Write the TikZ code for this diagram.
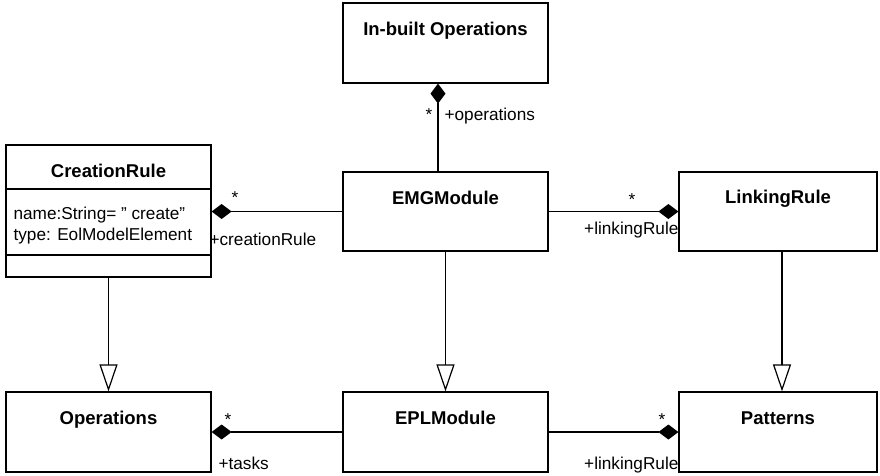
\documentclass[tikz,border=0pt]{standalone}
\usepackage{fontspec}
\setmainfont{Liberation Sans}
\usetikzlibrary{arrows.meta}

\begin{document}
\begin{tikzpicture}[x=1pt,y=-1pt,
  line width=1.2pt,
  box/.style={draw, rectangle, inner sep=0pt, minimum width=205pt, minimum height=80pt},
  title/.style={font=\bfseries\fontsize{18.5}{22}\selectfont, inner sep=0pt, anchor=base},
  lbl/.style={font=\fontsize{17.2}{20}\selectfont, inner sep=0pt},
  comp/.style={-{Diamond[length=20pt,width=15pt]}},
  gen/.style={-{Triangle[length=27pt,width=18pt,fill=white]}, line join=miter}
]
\useasboundingbox (0,0) rectangle (880,475);

% classes
\node[box] (inb) at (445.5,43) {};
\node[box, minimum height=132pt] (crule) at (108.5,211) {};
\node[box, minimum height=79pt] (emg) at (445.5,211.5) {};
\node[box, minimum width=198pt, minimum height=79pt] (lrule) at (778,211.5) {};
\node[box] (ops) at (108.5,432) {};
\node[box] (epl) at (445.5,432) {};
\node[box, minimum width=198pt] (pat) at (778,432) {};

% class names
\node[title] (tinb) at (445.5,35) {In-built Operations};
\node[title] (tcrule) at (108.5,177) {CreationRule};
\node[title] (temg) at (445.5,204) {EMGModule};
\node[title] (tlrule) at (778,203) {LinkingRule};
\node[title] (tops) at (108.5,424) {Operations};
\node[title] (tepl) at (445.5,424) {EPLModule};
\node[title] (tpat) at (778,424) {Patterns};

% compartments of CreationRule
\coordinate (s1) at (0,189);
\coordinate (s2) at (0,255);
\draw (crule.west |- s1) -- (crule.east |- s1);
\draw (crule.west |- s2) -- (crule.east |- s2);
\node[lbl, anchor=base west] (a1) at (13,219) {name:String= \symbol{34} create\symbol{34}};
\node[lbl, anchor=base west] (a2) at (13,240) {type: EolModelElement};

% connector columns
\coordinate (cx0) at (438,0);
\coordinate (cx1) at (108.5,0);
\coordinate (cx2) at (445.5,0);
\coordinate (cx3) at (782,0);

% compositions
\draw[comp] (emg.north -| cx0) -- (inb.south -| cx0);
\draw[comp] (emg.west) -- (crule.east |- emg.west);
\draw[comp] (emg.east) -- (lrule.west);
\draw[comp] (epl.west) -- (ops.east);
\draw[comp] (epl.east) -- (pat.west);

% generalizations
\draw[gen] (crule.south -| cx1) -- (ops.north -| cx1);
\draw[gen] (emg.south -| cx2) -- (epl.north -| cx2);
\draw[gen] (lrule.south -| cx3) -- (pat.north -| cx3);

% role names and multiplicities
\node[lbl, anchor=base] (m1) at (429,120) {*};
\node[lbl, anchor=base west] (r1) at (444,120) {+operations};
\node[lbl, anchor=base] (m2) at (235,203) {*};
\node[lbl, anchor=base west] (r2) at (209,245) {+creationRule};
\node[lbl, anchor=base] (m3) at (632,205) {*};
\node[lbl, anchor=base east] (r3) at (679,234) {+linkingRule};
\node[lbl, anchor=base] (m4) at (228,425) {*};
\node[lbl, anchor=base west] (r4) at (218,469) {+tasks};
\node[lbl, anchor=base] (m5) at (662,425) {*};
\node[lbl, anchor=base east] (r5) at (679,469) {+linkingRule};
\end{tikzpicture}
\end{document}
